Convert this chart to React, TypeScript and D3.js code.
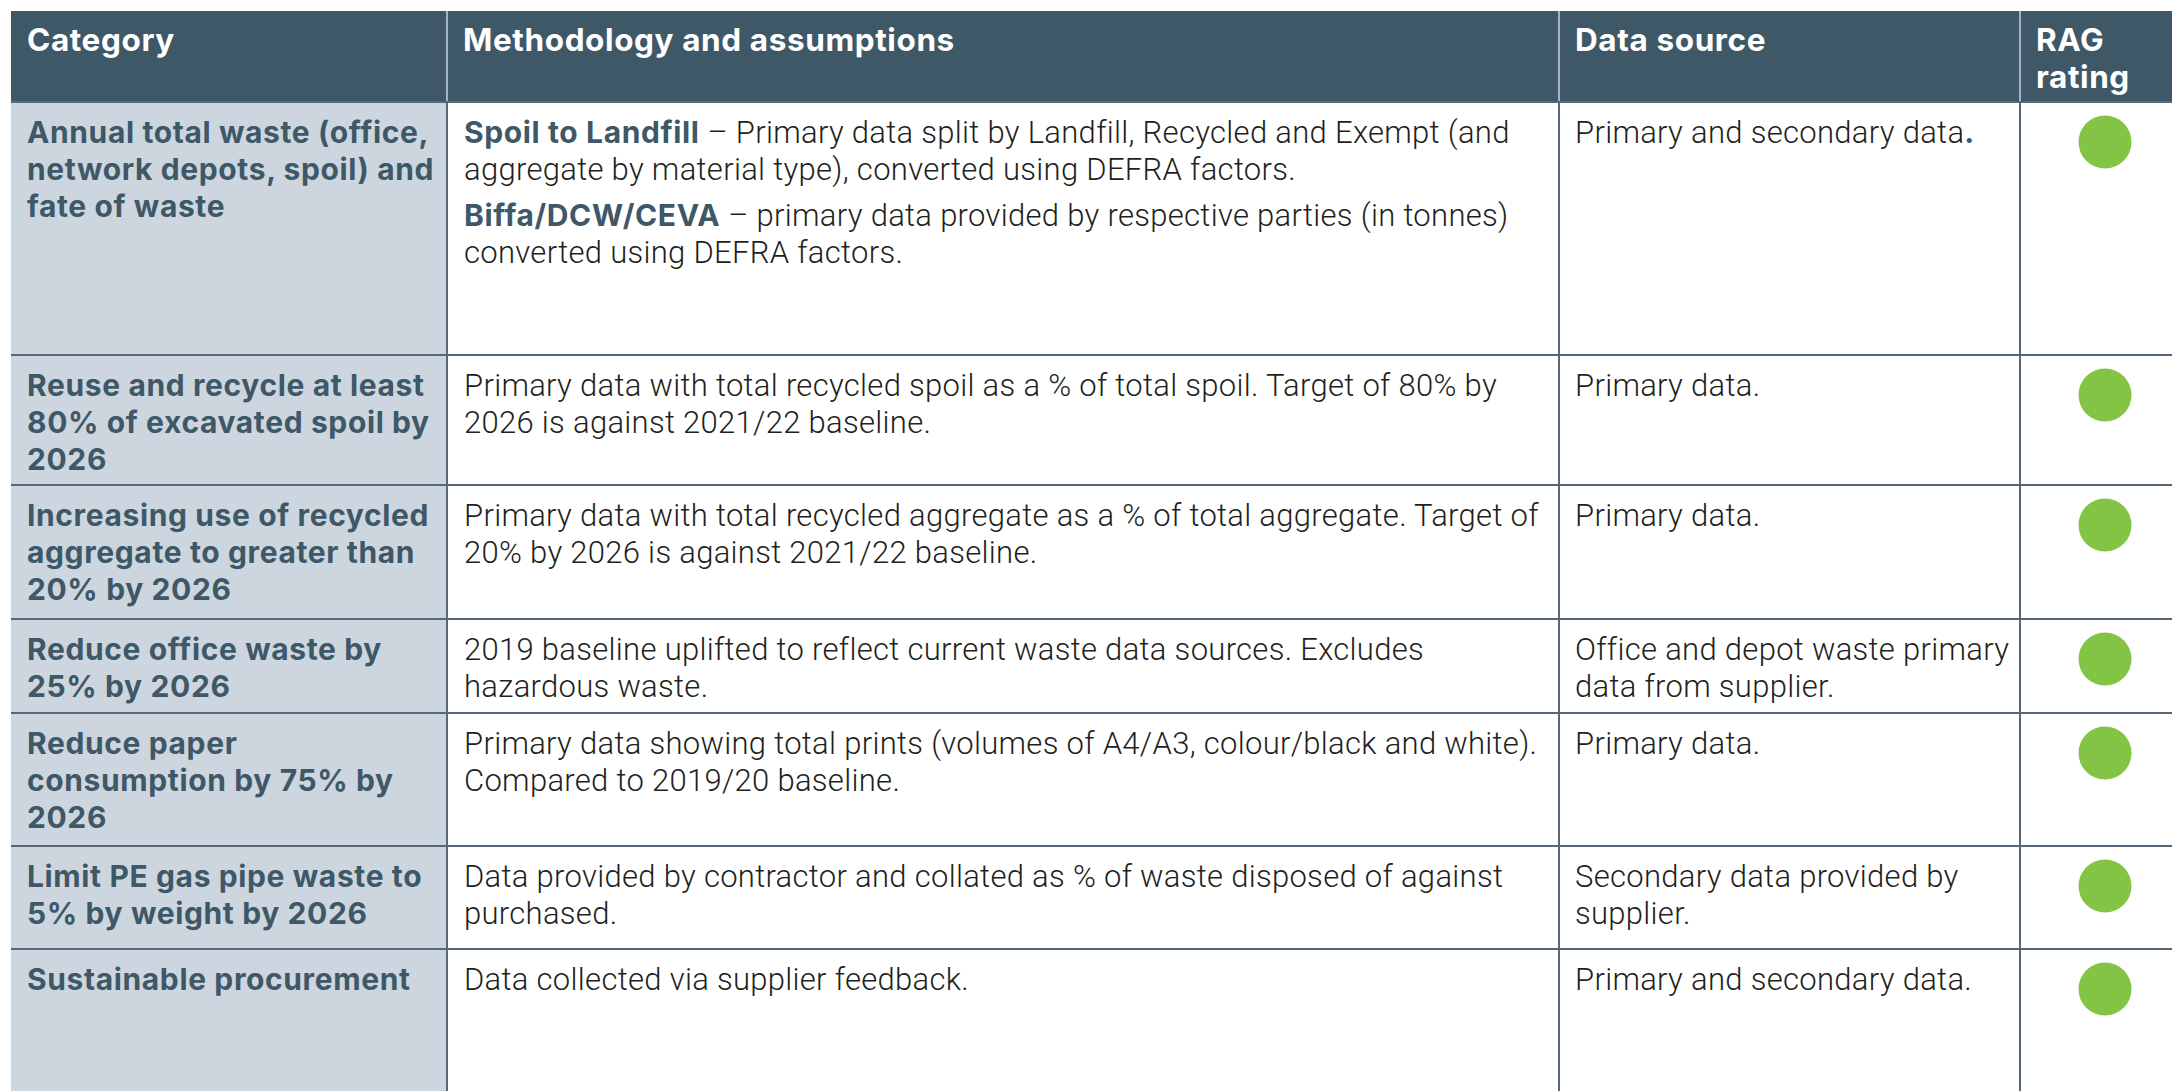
import React from "react";
import * as d3 from "d3";

// ---- Data ----
const headers: string[][] = [["Category"], ["Methodology and assumptions"], ["Data source"], ["RAG", "rating"]];

const categories: string[][] = [
  ["Annual total waste (office,", "network depots, spoil) and", "fate of waste"],
  ["Reuse and recycle at least", "80% of excavated spoil by", "2026"],
  ["Increasing use of recycled", "aggregate to greater than", "20% by 2026"],
  ["Reduce office waste by", "25% by 2026"],
  ["Reduce paper", "consumption by 75% by", "2026"],
  ["Limit PE gas pipe waste to", "5% by weight by 2026"],
  ["Sustainable procurement"],
];

// paragraphs of lines; **text** marks the bold lead-in
const methodology: string[][][] = [
  [
    ["**Spoil to Landfill** – Primary data split by Landfill, Recycled and Exempt (and", "aggregate by material type), converted using DEFRA factors."],
    ["**Biffa/DCW/CEVA** – primary data provided by respective parties (in tonnes)", "converted using DEFRA factors."],
  ],
  [["Primary data with total recycled spoil as a % of total spoil. Target of 80% by", "2026 is against 2021/22 baseline."]],
  [["Primary data with total recycled aggregate as a % of total aggregate. Target of", "20% by 2026 is against 2021/22 baseline."]],
  [["2019 baseline uplifted to reflect current waste data sources. Excludes", "hazardous waste."]],
  [["Primary data showing total prints (volumes of A4/A3, colour/black and white).", "Compared to 2019/20 baseline."]],
  [["Data provided by contractor and collated as % of waste disposed of against", "purchased."]],
  [["Data collected via supplier feedback."]],
];

const sources: string[][] = [
  ["Primary and secondary data**.**"],
  ["Primary data."],
  ["Primary data."],
  ["Office and depot waste primary", "data from supplier."],
  ["Primary data."],
  ["Secondary data provided by", "supplier."],
  ["Primary and secondary data."],
];

const ragRatings: string[] = ["green", "green", "green", "green", "green", "green", "green"];

// ---- Layout ----
const W = 2172;
const H = 1091;
const colKeys = ["category", "method", "source", "rag", "end"];
const colEdges = [11, 447, 1559, 2020, 2172];
const rowEdges = [11, 102, 355, 485, 619, 713, 846, 949, 1091];

const xCol = d3.scaleOrdinal<string, number>().domain(colKeys).range(colEdges);
const yRow = d3.scaleOrdinal<number, number>().domain(d3.range(rowEdges.length)).range(rowEdges);
const ragColor = d3.scaleOrdinal<string, string>().domain(["green", "amber", "red"]).range(["#84c444", "#f5a623", "#d0021b"]);

const HEADER_BG = "#3f5868";
const CAT_BG = "#cdd6de";
const CAT_TEXT = "#3f5868";
const BODY_TEXT = "#231f20";
const GRID = "#56697a";
const FONT = "Inter, 'Liberation Sans', Arial, sans-serif";
const LIGHT_FONT = "Roboto, Inter, 'Liberation Sans', sans-serif";
const LINE = 37;
const PAD = 16;
const BASE = 40;
const BODY_SIZE = 31;
const BODY_LS = 0.3;
const BOLD_SIZE = 30;
const BOLD_LS = 0.62;

function parseRuns(s: string) {
  const parts = s.split("**");
  return parts.map((t, i) => ({ t, b: i % 2 === 1 })).filter((r) => r.t.length > 0);
}

function RichLine({ x, y, text }: { x: number; y: number; text: string }) {
  const runs = parseRuns(text);
  return (
    <text x={x} y={y} fontFamily={LIGHT_FONT} fontSize={BODY_SIZE} fill={BODY_TEXT} fontWeight={300}>
      {runs.map((r, i) => (
        <tspan
          key={i}
          fontFamily={r.b ? FONT : LIGHT_FONT}
          fontWeight={r.b ? 700 : 300}
          fontSize={r.b ? BOLD_SIZE : BODY_SIZE}
          letterSpacing={r.b ? BOLD_LS : BODY_LS}
          fill={r.b ? CAT_TEXT : BODY_TEXT}
        >
          {r.t}
        </tspan>
      ))}
    </text>
  );
}

export default function App() {
  const nRows = categories.length;
  const cols = colKeys.slice(0, 4);
  return (
    <svg width={W} height={H} style={{ position: "absolute", left: 0, top: 0, background: "#fff" }}>
      {/* header */}
      <rect x={xCol("category")} y={yRow(0)} width={W - xCol("category")} height={yRow(1) - yRow(0)} fill={HEADER_BG} />
      {/* category column background */}
      <rect x={xCol("category")} y={yRow(1)} width={xCol("method") - xCol("category")} height={H - yRow(1)} fill={CAT_BG} />

      {/* header separators (light) */}
      {cols.slice(1).map((k) => (
        <line key={k} x1={xCol(k)} x2={xCol(k)} y1={yRow(0)} y2={yRow(1)} stroke="#c9d2d9" strokeWidth={1.5} />
      ))}
      {/* body vertical separators */}
      {cols.slice(1).map((k) => (
        <line key={"v" + k} x1={xCol(k)} x2={xCol(k)} y1={yRow(1)} y2={H} stroke={GRID} strokeWidth={2} />
      ))}
      {/* horizontal separators */}
      {d3.range(1, nRows + 1).map((i) => (
        <line key={"h" + i} x1={xCol("category")} x2={W} y1={yRow(i)} y2={yRow(i)} stroke={GRID} strokeWidth={2} />
      ))}

      {/* header text */}
      {headers.map((h, ci) => (
        <text key={ci} fontFamily={FONT} fontWeight={700} fontSize={31.5} letterSpacing={0.6} fill="#ffffff">
          {h.map((ln, li) => (
            <tspan key={li} x={xCol(cols[ci]) + PAD} y={yRow(0) + BASE + li * LINE}>
              {ln}
            </tspan>
          ))}
        </text>
      ))}

      {/* rows */}
      {categories.map((cat, r) => {
        const top = yRow(r + 1);
        let mLine = 0;
        return (
          <g key={r}>
            <text fontFamily={FONT} fontWeight={700} fontSize={BOLD_SIZE} letterSpacing={BOLD_LS} fill={CAT_TEXT}>
              {cat.map((ln, li) => (
                <tspan key={li} x={xCol("category") + PAD} y={top + BASE + 1 + li * LINE}>
                  {ln}
                </tspan>
              ))}
            </text>
            {methodology[r].map((para, pi) => {
              const els = para.map((ln, li) => {
                const y = top + BASE + 1 + (mLine + li) * LINE + pi * 9;
                return <RichLine key={pi + "-" + li} x={xCol("method") + PAD + 1} y={y} text={ln} />;
              });
              mLine += para.length;
              return <g key={pi}>{els}</g>;
            })}
            {sources[r].map((ln, li) => (
              <RichLine key={li} x={xCol("source") + PAD} y={top + BASE + 1 + li * LINE} text={ln} />
            ))}
            <circle cx={(xCol("rag") + xCol("end")) / 2 + 9} cy={top + 40} r={26.5} fill={ragColor(ragRatings[r])} />
          </g>
        );
      })}
    </svg>
  );
}
